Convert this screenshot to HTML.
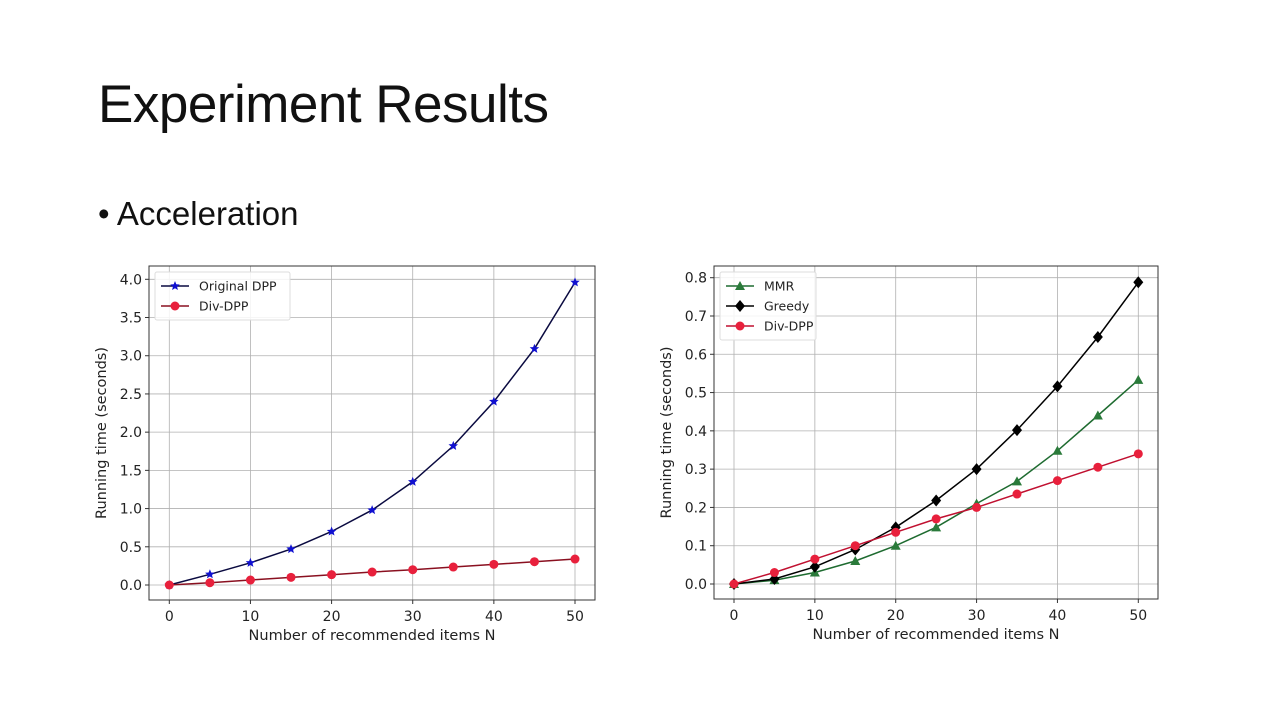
<!DOCTYPE html>
<html><head><meta charset="utf-8"><style>
body{margin:0;background:#fff;width:1280px;height:720px;overflow:hidden;font-family:"Liberation Sans",sans-serif}
#t{position:absolute;left:98px;top:74px;font-size:53px;color:#111;letter-spacing:-0.5px}
#b{position:absolute;left:98px;top:195px;font-size:33px;color:#111}
svg{position:absolute;left:0;top:0}
</style></head><body>
<div id="t">Experiment Results</div>
<div id="b">• Acceleration</div>
<svg id="s" width="1280" height="720" font-family="DejaVu Sans, Liberation Sans, sans-serif"></svg>
<script>
const s=document.getElementById('s');let h='';
function chart(o){
 const {bx0,bx1,by0,by1,x0,x50,y0,ytop,ymax,ystep,series,legend}=o;
 const X=v=>x0+(x50-x0)*v/50, Y=v=>y0-(y0-ytop)*v/ymax;
 h+=`<rect x="${bx0}" y="${by0}" width="${bx1-bx0}" height="${by1-by0}" fill="#fff"/>`;
 for(let i=0;i<=50;i+=10){const x=X(i);h+=`<line x1="${x}" y1="${by0}" x2="${x}" y2="${by1}" stroke="#b0b0b0" stroke-width="0.8"/><line x1="${x}" y1="${by1}" x2="${x}" y2="${by1+4}" stroke="#333"/><text x="${x}" y="${by1+21}" font-size="14" text-anchor="middle" fill="#222">${i}</text>`;}
 for(let v=0;v<=ymax+1e-9;v+=ystep){const y=Y(v);h+=`<line x1="${bx0}" y1="${y}" x2="${bx1}" y2="${y}" stroke="#b0b0b0" stroke-width="0.8"/><line x1="${bx0-4}" y1="${y}" x2="${bx0}" y2="${y}" stroke="#333"/><text x="${bx0-7}" y="${y+5}" font-size="14" text-anchor="end" fill="#222">${v.toFixed(1)}</text>`;}
 h+=`<rect x="${bx0}" y="${by0}" width="${bx1-bx0}" height="${by1-by0}" fill="none" stroke="#333" stroke-width="1"/>`;
 h+=`<text x="${(bx0+bx1)/2}" y="${by1+40}" font-size="14.5" text-anchor="middle" fill="#222">Number of recommended items N</text>`;
 h+=`<text transform="translate(${bx0-43},${(by0+by1)/2}) rotate(-90)" font-size="14.5" text-anchor="middle" fill="#222">Running time (seconds)</text>`;
 function mk(t,x,y,c){
  if(t=='o')return `<circle cx="${x}" cy="${y}" r="4.5" fill="${c}"/>`;
  if(t=='^')return `<polygon points="${x},${y-5} ${x-5},${y+4} ${x+5},${y+4}" fill="${c}"/>`;
  if(t=='D')return `<polygon points="${x},${y-6} ${x+5},${y} ${x},${y+6} ${x-5},${y}" fill="${c}"/>`;
  if(t=='*'){let p=[];for(let k=0;k<10;k++){const r=k%2?2.2:5,a=-Math.PI/2+k*Math.PI/5;p.push((x+r*Math.cos(a)).toFixed(1)+','+(y+r*Math.sin(a)).toFixed(1));}return `<polygon points="${p.join(' ')}" fill="${c}"/>`;}
 }
 series.forEach(se=>{
  const pts=se.d.map((v,i)=>X(i*5).toFixed(1)+','+Y(v).toFixed(1)).join(' ');
  h+=`<polyline points="${pts}" fill="none" stroke="${se.lc}" stroke-width="1.5"/>`;
  se.d.forEach((v,i)=>h+=mk(se.m,X(i*5),Y(v),se.mc));
 });
 const lx=bx0+6,ly=by0+6,lh=series.length*20+8;
 h+=`<rect x="${lx}" y="${ly}" width="${legend}" height="${lh}" fill="#fff" fill-opacity="0.85" stroke="#ddd" rx="2"/>`;
 series.forEach((se,i)=>{const y=ly+14+i*20;h+=`<line x1="${lx+6}" y1="${y}" x2="${lx+34}" y2="${y}" stroke="${se.lc}" stroke-width="1.5"/>`+mk(se.m,lx+20,y,se.mc)+`<text x="${lx+44}" y="${y+4.5}" font-size="12.5" fill="#222">${se.n}</text>`;});
}
const div=[0,.03,.065,.10,.135,.17,.20,.235,.27,.305,.34];
chart({bx0:149,bx1:595,by0:266,by1:600,x0:169.3,x50:575,y0:585,ytop:279.3,ymax:4,ystep:0.5,legend:135,
 series:[{n:'Original DPP',d:[0,.14,.29,.47,.70,.98,1.35,1.82,2.40,3.09,3.96],lc:'#0a0a40',mc:'#1010d0',m:'*'},
 {n:'Div-DPP',d:div,lc:'#8a1020',mc:'#e8203c',m:'o'}]});
chart({bx0:714,bx1:1158,by0:266,by1:599,x0:734,x50:1138.3,y0:584,ytop:277.7,ymax:0.8,ystep:0.1,legend:96,
 series:[{n:'MMR',d:[0,.01,.03,.06,.10,.148,.21,.268,.348,.44,.533],lc:'#1e6b30',mc:'#2a7a3a',m:'^'},
 {n:'Greedy',d:[0,.013,.045,.09,.148,.218,.30,.402,.516,.645,.788],lc:'#000',mc:'#000',m:'D'},
 {n:'Div-DPP',d:div,lc:'#c01030',mc:'#e8203c',m:'o'}]});
s.innerHTML=h;
</script>
</body></html>
